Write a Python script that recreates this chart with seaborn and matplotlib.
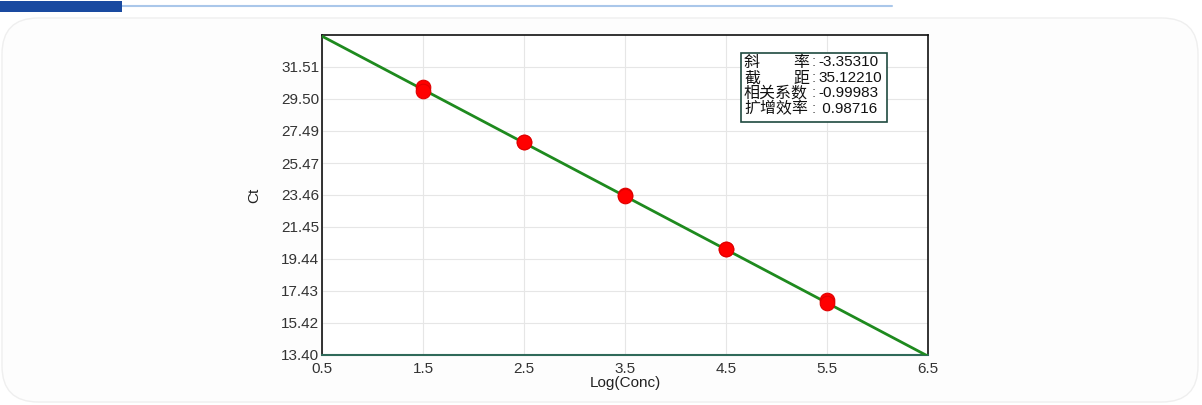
import numpy as np
import pandas as pd
import matplotlib
matplotlib.use("Agg")
import matplotlib.pyplot as plt
import seaborn as sns
from matplotlib.patches import Rectangle, FancyBboxPatch

# ---- data ----
log_conc = [1.5, 1.5, 2.5, 2.5, 3.5, 3.5, 4.5, 4.5, 5.5, 5.5]
ct_values = [30.25, 29.98, 26.82, 26.78, 23.47, 23.40, 20.07, 20.04, 16.85, 16.66]
slope = -3.35310
intercept = 35.12210
corr = -0.99983
efficiency = 0.98716
x_ticks = [0.5, 1.5, 2.5, 3.5, 4.5, 5.5, 6.5]
y_ticks = [13.40, 15.42, 17.43, 19.44, 21.45, 23.46, 25.47, 27.49, 29.50, 31.51]
y_tick_labels = ["13.40", "15.42", "17.43", "19.44", "21.45", "23.46", "25.47", "27.49", "29.50", "31.51"]
stat_labels = [("斜", "率"), ("截", "距"), ("相关系数", None), ("扩增效率", None)]
stat_values = ["-3.35310", "35.12210", "-0.99983", " 0.98716"]

sns.set_theme(style="white")
plt.rcParams['font.family'] = ['Liberation Sans', 'Noto Sans CJK SC', 'DejaVu Sans']

W, H = 1202, 405
fig = plt.figure(figsize=(W / 100, H / 100), dpi=100)
fig.patch.set_facecolor("white")

def fx(px):
    return px / W

def fy(py):
    return 1 - py / H

# card background
card = FancyBboxPatch((fx(2), fy(402)), fx(1196), (398 - 14) / H,
                      boxstyle="round,pad=0,rounding_size=0.03",
                      transform=fig.transFigure, facecolor="#fdfdfd",
                      edgecolor="#efefef", lw=1, zorder=0, mutation_aspect=W / H)
fig.patches.append(card)
# top decoration
fig.patches.append(Rectangle((0, fy(12)), fx(122), 11 / H, transform=fig.transFigure,
                             facecolor="#1a4aa0", edgecolor="none", zorder=1))
fig.lines.append(plt.Line2D([fx(122), fx(892)], [fy(6), fy(6)], transform=fig.transFigure,
                            color="#aac7ea", lw=1.5, zorder=1))

ax = fig.add_axes([fx(322), fy(355), fx(928) - fx(322), (355 - 35) / H])
ax.set_zorder(3)
ax.set_facecolor("white")

xmin, xmax = 0.5, 6.5
ymin, ymax = 13.40, 33.52
xs = np.array([xmin, xmax])
line_df = pd.DataFrame({"x": xs, "y": slope * xs + intercept})
sns.lineplot(data=line_df, x="x", y="y", ax=ax, color="#1e8a1e", lw=2, zorder=3)

pts = pd.DataFrame({"x": log_conc, "y": ct_values})
sns.scatterplot(data=pts, x="x", y="y", ax=ax, color="#ff0000", s=110,
                edgecolor="#e00000", linewidth=0.8, zorder=4)

ax.set_xlim(xmin, xmax)
ax.set_ylim(ymin, ymax)
ax.set_xticks(x_ticks)
ax.set_xticklabels([str(t) for t in x_ticks])
ax.set_yticks(y_ticks)
ax.set_yticklabels(y_tick_labels)
ax.grid(True, color="#e6e6e6", lw=0.8)
ax.set_axisbelow(True)
ax.tick_params(axis="both", labelsize=11, colors="#333333", length=0, pad=2)
ax.tick_params(axis="x", pad=5)
for s in ["top", "right", "left"]:
    ax.spines[s].set_color("#111111")
    ax.spines[s].set_linewidth(1.2)
ax.spines["bottom"].set_color("#2f6a5a")
ax.spines["bottom"].set_linewidth(1.5)
ax.set_xlabel("Log(Conc)", fontsize=11, color="#222222", labelpad=0)
ax.set_ylabel("Ct", fontsize=11, color="#222222", labelpad=14)

# stats box
fig.patches.append(Rectangle((fx(741), fy(122)), fx(887) - fx(741), (122 - 53) / H,
                             transform=fig.transFigure, facecolor="white",
                             edgecolor="#1f4a40", lw=1.2, zorder=5))
row_y = [62, 78, 93, 109]
for (lab, lab2), val, ry in zip(stat_labels, stat_values, row_y):
    fig.text(fx(744), fy(ry), lab, fontsize=11.5, va="center", ha="left",
             color="#111111", zorder=6)
    if lab2:
        fig.text(fx(809), fy(ry), lab2, fontsize=11.5, va="center", ha="right",
                 color="#111111", zorder=6)
    fig.text(fx(812), fy(ry), ":", fontsize=11, va="center", ha="left",
             color="#555555", zorder=6)
    fig.text(fx(818), fy(ry), val, fontsize=11, va="center", ha="left",
             color="#111111", zorder=6)

fig.savefig("out.png", dpi=100, facecolor=fig.get_facecolor())
